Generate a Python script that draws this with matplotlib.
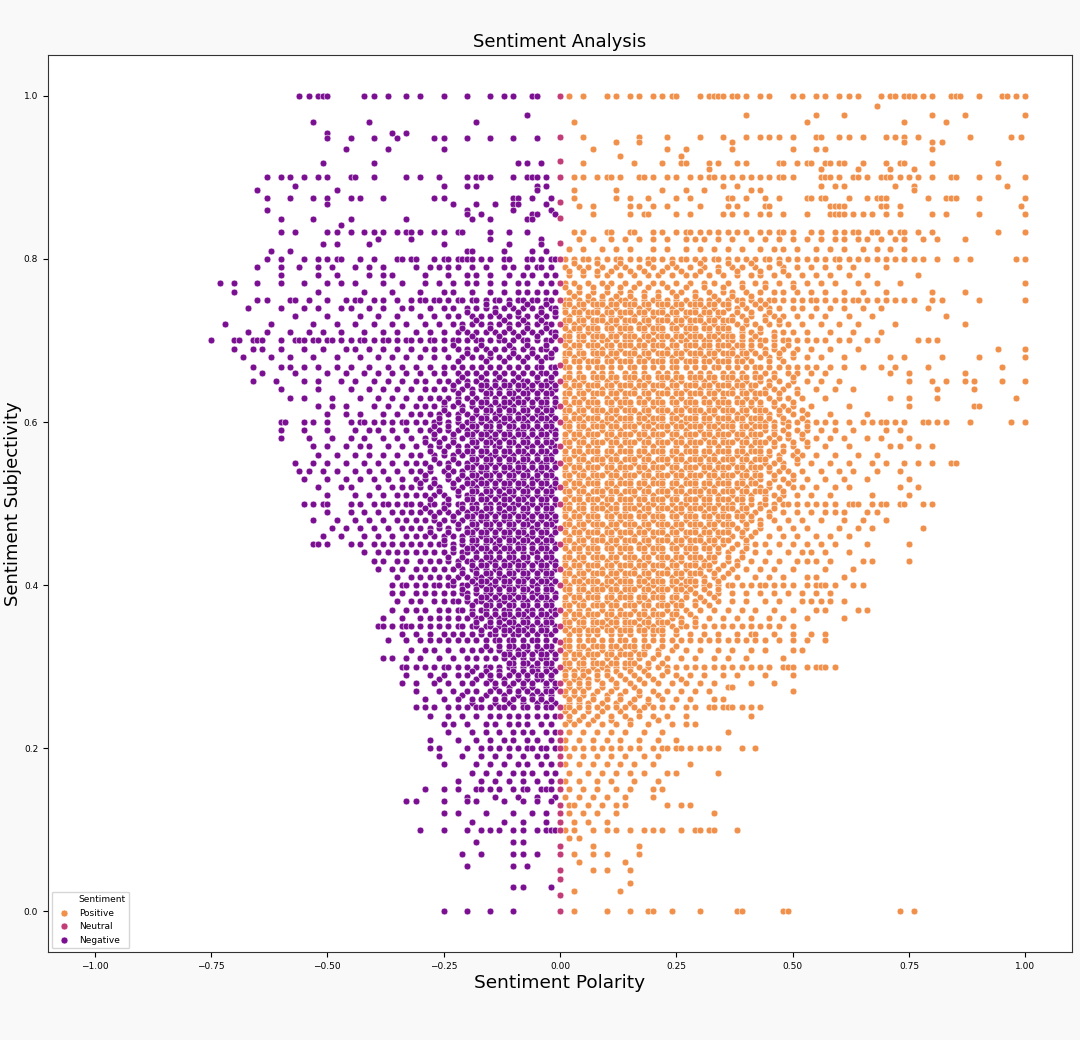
import matplotlib
matplotlib.use("Agg")
import matplotlib.pyplot as plt
from matplotlib.lines import Line2D

# polarity values are in hundredths, one row per subjectivity level

pos_high = [
    (1.0, [2, 5, 10, 12, 15, 17, 20, 22, 24, 25, 30, 32, 33, 34, 35, 37, 38, 40, 43, 45, 50, 52, 55, 57, 60, 62, 64, 69, 71, 72, 74, 75, 76, 78, 80, 84, 85, 86, 90, 95, 96, 98, 100]),
    (0.988, [68]),
    (0.977, [40, 55, 61, 80, 87, 100]),
    (0.968, [3, 53, 74, 83]),
    (0.95, [5, 17, 23, 30, 35, 40, 43, 45, 47, 50, 55, 56, 60, 62, 65, 70, 72, 74, 77, 88, 97, 99]),
    (0.943, [12, 17, 37, 74, 80, 82]),
    (0.935, [7, 23, 27, 37, 50, 55, 57, 80]),
    (0.926, [13, 26]),
    (0.918, [5, 16, 22, 26, 27, 32, 34, 38, 40, 47, 48, 51, 53, 54, 57, 58, 60, 61, 65, 70, 73, 74, 80, 94]),
    (0.91, [32, 56, 64, 71, 76]),
    (0.9, [3, 5, 8, 10, 11, 13, 17, 18, 20, 23, 25, 28, 30, 32, 33, 35, 37, 39, 41, 43, 45, 47, 48, 50, 56, 57, 58, 60, 63, 64, 66, 69, 70, 71, 73, 75, 77, 80, 84, 85, 90, 94, 100]),
    (0.89, [35, 38, 56, 59, 61, 72, 76, 96]),
    (0.885, [3, 12, 22, 27, 31, 41, 43, 76]),
    (0.875, [3, 12, 15, 19, 25, 28, 36, 37, 40, 44, 47, 53, 54, 56, 57, 62, 66, 68, 69, 70, 79, 83, 84, 85, 90, 100]),
    (0.865, [4, 7, 15, 17, 20, 23, 30, 36, 38, 44, 45, 58, 59, 60, 61, 69, 70, 73, 99]),
    (0.855, [7, 15, 18, 19, 25, 28, 35, 37, 40, 43, 45, 48, 53, 58, 59, 60, 61, 63, 65, 67, 70, 73, 80, 83, 90, 100]),
    (0.833, [3, 5, 10, 11, 15, 16, 20, 22, 25, 27, 28, 30, 32, 34, 36, 38, 40, 43, 45, 47, 48, 50, 54, 56, 59, 61, 63, 64, 67, 68, 71, 73, 74, 77, 80, 94, 100]),
    (0.824, [4, 7, 11, 14, 17, 20, 23, 27, 29, 31, 34, 37, 41, 44, 47, 50, 53, 56, 59, 61, 64, 66, 69, 72, 74, 78, 81, 87]),
    (0.812, [2, 5, 9, 12, 15, 20, 23, 27, 30, 33, 36, 39, 43, 46, 48, 51, 55, 58, 61, 65, 68, 71, 74]),
    (0.8, [1, 3, 5, 6, 8, 10, 12, 13, 15, 17, 19, 20, 22, 24, 26, 27, 29, 31, 33, 34, 36, 38, 40, 42, 44, 45, 47, 49, 51, 53, 55, 57, 59, 60, 62, 64, 66, 68, 70, 72, 74, 76, 78, 81, 85, 88, 98, 100]),
]

pos_mid = [
    (0.79, [1, 4, 6, 9, 12, 14, 17, 20, 23, 25, 28, 31, 34, 37, 39, 42, 45, 48, 51, 54, 57, 60, 63, 70]),
    (0.78, [2, 5, 8, 10, 13, 16, 19, 21, 24, 27, 29, 32, 35, 38, 41, 43, 46, 49, 52, 55, 58, 62, 66, 77]),
    (0.77, [1, 3, 6, 9, 11, 14, 17, 20, 22, 25, 28, 31, 33, 36, 39, 42, 44, 47, 50, 53, 56, 59, 64, 68, 73, 100]),
    (0.76, [2, 4, 7, 10, 13, 15, 18, 21, 24, 26, 29, 32, 35, 37, 40, 43, 46, 48, 51, 54, 57, 61, 65, 70, 80, 87]),
    (0.75, [1, 2, 4, 6, 7, 9, 11, 13, 14, 16, 18, 20, 21, 23, 25, 27, 29, 30, 32, 34, 36, 38, 39, 41, 43, 45, 46, 48, 50, 52, 54, 55, 57, 59, 61, 63, 64, 66, 68, 70, 72, 74, 76, 80, 82, 90, 100]),
    (0.74, [1, 3, 5, 8, 10, 12, 15, 17, 19, 22, 24, 26, 29, 31, 33, 36, 38, 40, 43, 45, 47, 50, 52, 55, 58, 61, 65, 69, 79]),
    (0.73, [2, 4, 6, 9, 11, 13, 16, 18, 20, 23, 25, 27, 30, 32, 34, 37, 39, 41, 44, 46, 48, 51, 54, 57, 62, 67, 83]),
    (0.72, [1, 3, 5, 7, 10, 12, 14, 17, 19, 21, 24, 26, 28, 31, 33, 35, 38, 40, 42, 45, 47, 49, 52, 56, 60, 64, 72, 87]),
    (0.71, [2, 4, 6, 8, 11, 13, 15, 18, 20, 22, 25, 27, 29, 32, 34, 36, 39, 41, 43, 46, 48, 50, 53, 58, 63, 69]),
    (0.70, [1, 2, 4, 5, 7, 9, 10, 12, 14, 15, 17, 19, 20, 22, 24, 26, 27, 29, 31, 32, 34, 36, 37, 39, 41, 43, 44, 46, 48, 49, 51, 53, 55, 57, 60, 62, 66, 68, 77, 79, 81]),
    (0.69, [2, 4, 7, 9, 11, 13, 16, 18, 20, 23, 25, 27, 30, 32, 34, 37, 39, 41, 44, 46, 48, 51, 54, 58, 64, 94, 100]),
    (0.68, [1, 3, 5, 8, 10, 12, 15, 17, 19, 22, 24, 26, 29, 31, 33, 36, 38, 40, 43, 45, 47, 50, 53, 56, 61, 71, 74, 82, 90, 100]),
    (0.667, [1, 2, 4, 6, 8, 9, 11, 13, 15, 16, 18, 20, 22, 24, 25, 27, 29, 31, 33, 34, 36, 38, 40, 42, 43, 45, 47, 49, 51, 53, 55, 58, 61, 65, 69, 72, 79, 95]),
    (0.66, [2, 4, 7, 9, 11, 14, 16, 18, 21, 23, 25, 28, 30, 32, 35, 37, 39, 42, 44, 46, 49, 51, 54, 57, 71, 75, 87]),
    (0.65, [1, 3, 5, 8, 10, 12, 15, 17, 19, 22, 24, 26, 29, 31, 33, 36, 38, 40, 43, 45, 47, 50, 53, 56, 60, 75, 80, 83, 87, 89, 95, 100]),
    (0.64, [2, 4, 6, 9, 11, 13, 16, 18, 20, 23, 25, 27, 30, 32, 34, 37, 39, 41, 44, 46, 48, 51, 55, 59, 63, 81, 89]),
    (0.63, [1, 3, 5, 7, 10, 12, 14, 17, 19, 21, 24, 26, 28, 31, 33, 35, 38, 40, 42, 45, 47, 49, 52, 57, 71, 75, 81, 98]),
    (0.62, [2, 4, 6, 8, 11, 13, 15, 18, 20, 22, 25, 27, 29, 32, 34, 36, 39, 41, 43, 46, 48, 50, 54, 62, 75, 89, 90]),
    (0.61, [1, 3, 5, 8, 10, 12, 15, 17, 19, 22, 24, 26, 29, 31, 33, 36, 38, 40, 43, 45, 47, 50, 53, 58, 66]),
    (0.60, [1, 2, 4, 5, 7, 9, 10, 12, 14, 15, 17, 19, 20, 22, 24, 26, 27, 29, 31, 32, 34, 36, 37, 39, 41, 43, 44, 46, 48, 49, 51, 53, 55, 57, 59, 62, 65, 67, 69, 70, 72, 74, 78, 79, 81, 83, 88, 97, 100]),
    (0.59, [2, 4, 6, 9, 11, 13, 16, 18, 20, 23, 25, 27, 30, 32, 34, 37, 39, 41, 44, 46, 48, 51, 53, 56, 59, 63, 70, 73]),
    (0.58, [1, 3, 5, 7, 10, 12, 14, 17, 19, 21, 24, 26, 28, 31, 33, 35, 38, 40, 42, 45, 47, 49, 52, 55, 58, 61, 66, 69, 75]),
    (0.57, [2, 4, 6, 8, 11, 13, 15, 18, 20, 22, 25, 27, 29, 32, 34, 36, 39, 41, 43, 46, 48, 50, 53, 57, 62, 71, 73, 77, 80]),
    (0.56, [1, 3, 5, 8, 10, 12, 15, 17, 19, 22, 24, 26, 29, 31, 33, 36, 38, 40, 43, 45, 47, 50, 52, 55, 59, 64, 68]),
    (0.55, [2, 4, 6, 9, 11, 13, 16, 18, 20, 23, 25, 27, 30, 32, 34, 37, 39, 41, 44, 46, 48, 51, 54, 58, 62, 67, 70, 74, 77, 80, 84, 85]),
    (0.54, [1, 3, 5, 7, 10, 12, 14, 17, 19, 21, 24, 26, 28, 31, 33, 35, 38, 40, 42, 45, 47, 49, 52, 56, 60, 63, 68, 73]),
    (0.53, [2, 4, 6, 8, 11, 13, 15, 18, 20, 22, 25, 27, 29, 32, 34, 36, 39, 41, 43, 46, 48, 50, 53, 57, 61, 66, 75]),
    (0.52, [1, 3, 5, 8, 10, 12, 15, 17, 19, 22, 24, 26, 29, 31, 33, 36, 38, 40, 43, 45, 47, 50, 52, 55, 59, 62, 73, 77]),
    (0.51, [2, 4, 6, 9, 11, 13, 16, 18, 20, 23, 25, 27, 30, 32, 34, 37, 39, 41, 44, 46, 48, 51, 54, 58, 67, 75]),
    (0.50, [1, 2, 4, 5, 7, 9, 10, 12, 14, 15, 17, 19, 20, 22, 24, 26, 27, 29, 31, 32, 34, 36, 37, 39, 41, 43, 44, 46, 48, 49, 51, 53, 55, 57, 59, 62, 63, 64, 67, 69, 70, 73, 74, 78, 80]),
    (0.49, [1, 3, 5, 7, 10, 12, 14, 17, 19, 21, 24, 26, 28, 31, 33, 35, 38, 40, 42, 45, 48, 51, 54, 57, 59, 61, 66, 68]),
    (0.48, [2, 4, 6, 8, 11, 13, 15, 18, 20, 22, 25, 27, 29, 32, 34, 36, 39, 41, 43, 46, 49, 52, 56, 61, 65, 70]),
    (0.47, [1, 3, 5, 8, 10, 12, 15, 17, 19, 22, 24, 26, 29, 31, 33, 36, 38, 40, 43, 47, 50, 53, 60, 64, 67, 78]),
    (0.46, [2, 4, 6, 9, 11, 13, 16, 18, 20, 23, 25, 27, 30, 32, 34, 37, 39, 41, 45, 48, 51, 55, 58, 62]),
    (0.45, [1, 3, 5, 7, 10, 12, 14, 17, 19, 21, 24, 26, 28, 31, 33, 35, 38, 40, 42, 44, 47, 50, 53, 56, 59, 66, 75]),
    (0.44, [2, 4, 6, 8, 11, 13, 15, 18, 20, 22, 25, 27, 29, 32, 34, 36, 39, 42, 45, 49, 52, 54, 57, 62]),
    (0.43, [1, 3, 5, 8, 10, 12, 15, 17, 19, 22, 24, 26, 29, 31, 33, 36, 38, 41, 44, 47, 51, 53, 55, 58, 65, 67, 75]),
    (0.42, [2, 4, 6, 9, 11, 13, 16, 18, 20, 23, 25, 27, 30, 32, 34, 37, 40, 43, 46, 50, 57, 63]),
    (0.41, [1, 3, 5, 7, 10, 12, 14, 17, 19, 21, 24, 26, 28, 31, 33, 35, 38, 42, 45, 48, 53, 55, 61]),
    (0.40, [1, 2, 4, 5, 7, 9, 10, 12, 14, 15, 17, 19, 20, 22, 24, 26, 27, 29, 31, 32, 34, 36, 37, 39, 41, 43, 44, 46, 48, 50, 53, 55, 56, 57, 59, 63, 65]),
    (0.39, [2, 4, 6, 8, 11, 13, 15, 18, 20, 22, 25, 27, 29, 32, 34, 37, 40, 43, 46, 49, 52, 55, 58]),
    (0.38, [1, 3, 5, 8, 10, 12, 15, 17, 19, 22, 24, 26, 29, 31, 34, 37, 40, 44, 47, 52, 54, 56, 58, 61]),
    (0.37, [2, 4, 6, 9, 11, 13, 16, 18, 20, 23, 25, 27, 30, 33, 36, 39, 42, 46, 50, 55, 57, 64, 66]),
    (0.36, [1, 3, 5, 7, 10, 12, 14, 17, 19, 21, 24, 26, 29, 32, 35, 38, 41, 45, 48, 53, 61]),
    (0.35, [1, 2, 4, 5, 7, 9, 10, 12, 14, 15, 17, 19, 20, 22, 24, 26, 27, 29, 31, 33, 35, 37, 39, 41, 43, 45, 47, 50]),
    (0.34, [2, 4, 6, 8, 11, 13, 15, 18, 20, 22, 25, 28, 31, 34, 38, 41, 42, 46, 50, 54, 57]),
    (0.333, [1, 2, 4, 6, 7, 9, 11, 13, 14, 16, 18, 20, 22, 24, 26, 28, 30, 32, 34, 36, 38, 40, 42, 44, 47, 50, 53, 57]),
    (0.32, [2, 4, 6, 9, 11, 13, 16, 18, 21, 24, 27, 30, 34, 37, 41, 44, 50, 52]),
    (0.31, [1, 3, 5, 7, 10, 12, 15, 17, 20, 23, 26, 29, 33, 36, 40, 48]),
    (0.30, [1, 2, 4, 5, 7, 9, 10, 12, 14, 15, 17, 19, 21, 23, 25, 27, 29, 31, 33, 35, 37, 39, 41, 43, 45, 48, 49, 50, 53, 55, 56, 57, 59]),
]

# extra points between the levels, where the orange cloud is solid
pos_fill = [
    (0.795, [3, 8, 13, 19, 24, 30, 36, 41, 47]),
    (0.785, [2, 5, 8, 11, 15, 18, 22, 26, 30, 34, 38, 43, 48]),
    (0.765, [1, 4, 7, 10, 13, 16, 19, 23, 27, 31, 35, 39, 44, 50]),
    (0.755, [3, 6, 9, 12, 15, 18, 21, 25, 29, 33, 37, 41]),
    (0.745, [1, 2, 4, 5, 7, 8, 9, 11, 12, 14, 15, 16, 18, 19, 21, 22, 23, 25, 26, 28, 29, 30, 32, 33, 35, 36, 39, 42, 44]),
    (0.735, [1, 3, 4, 6, 7, 8, 10, 11, 13, 14, 15, 17, 18, 20, 21, 22, 24, 25, 27, 28, 29, 31, 32, 34, 35, 38, 41, 45]),
    (0.725, [1, 2, 4, 5, 7, 8, 9, 11, 12, 14, 15, 16, 18, 19, 21, 22, 23, 25, 26, 28, 29, 30, 32, 33, 35, 36, 37, 40, 44, 47]),
    (0.715, [1, 3, 4, 6, 7, 8, 10, 11, 13, 14, 15, 17, 18, 20, 21, 22, 24, 25, 27, 28, 29, 31, 32, 34, 35, 36, 39, 43]),
    (0.705, [1, 2, 4, 5, 7, 8, 9, 11, 12, 14, 15, 16, 18, 19, 21, 22, 23, 25, 26, 28, 29, 30, 32, 33, 35, 36, 37, 39, 42, 46]),
    (0.695, [1, 3, 4, 6, 7, 8, 10, 11, 13, 14, 15, 17, 18, 20, 21, 22, 24, 25, 27, 28, 29, 31, 32, 34, 35, 36, 38, 39, 41, 43, 46, 49]),
    (0.685, [1, 2, 4, 5, 7, 8, 9, 11, 12, 14, 15, 16, 18, 19, 21, 22, 23, 25, 26, 28, 29, 30, 32, 33, 35, 36, 37, 39, 40, 42, 44, 47, 50]),
    (0.675, [1, 3, 4, 6, 7, 8, 10, 11, 13, 14, 15, 17, 18, 20, 21, 22, 24, 25, 27, 28, 29, 31, 32, 34, 35, 36, 38, 39, 41, 45, 48]),
    (0.655, [1, 2, 4, 5, 7, 8, 9, 11, 12, 14, 15, 16, 18, 19, 21, 22, 23, 25, 26, 28, 29, 30, 32, 33, 35, 36, 37, 39, 40, 42, 43, 46, 50]),
    (0.645, [1, 3, 4, 6, 7, 8, 10, 11, 13, 14, 15, 17, 18, 20, 21, 22, 24, 25, 27, 28, 29, 31, 32, 34, 35, 36, 38, 39, 41, 42, 45, 49]),
    (0.635, [1, 2, 4, 5, 7, 8, 9, 11, 12, 14, 15, 16, 18, 19, 21, 22, 23, 25, 26, 28, 29, 30, 32, 33, 35, 36, 37, 39, 40, 42, 43, 44, 47, 51]),
    (0.625, [1, 3, 4, 6, 7, 8, 10, 11, 13, 14, 15, 17, 18, 20, 21, 22, 24, 25, 27, 28, 29, 31, 32, 34, 35, 36, 38, 39, 41, 43, 46, 50]),
    (0.615, [1, 2, 4, 5, 7, 8, 9, 11, 12, 14, 15, 16, 18, 19, 21, 22, 23, 25, 26, 28, 29, 30, 32, 33, 35, 36, 37, 39, 40, 42, 43, 44, 47, 49, 52]),
    (0.605, [1, 3, 4, 6, 7, 8, 10, 11, 13, 14, 15, 17, 18, 20, 21, 22, 24, 25, 27, 28, 29, 31, 32, 34, 35, 36, 38, 39, 41, 42, 43, 45, 48, 52]),
    (0.595, [1, 2, 4, 5, 7, 8, 9, 11, 12, 14, 15, 16, 18, 19, 21, 22, 23, 25, 26, 28, 29, 30, 32, 33, 35, 36, 37, 39, 40, 42, 43, 44, 46, 49, 53]),
    (0.585, [1, 3, 4, 6, 7, 8, 10, 11, 13, 14, 15, 17, 18, 20, 21, 22, 24, 25, 27, 28, 29, 31, 32, 34, 35, 36, 38, 39, 41, 42, 43, 46, 49, 52]),
    (0.575, [1, 2, 4, 5, 7, 8, 9, 11, 12, 14, 15, 16, 18, 19, 21, 22, 23, 25, 26, 28, 29, 30, 32, 33, 35, 36, 37, 39, 40, 42, 43, 44, 46, 50, 53]),
    (0.565, [1, 3, 4, 6, 7, 8, 10, 11, 13, 14, 15, 17, 18, 20, 21, 22, 24, 25, 27, 28, 29, 31, 32, 34, 35, 36, 38, 39, 41, 42, 43, 45, 48, 51]),
    (0.555, [1, 2, 4, 5, 7, 8, 9, 11, 12, 14, 15, 16, 18, 19, 21, 22, 23, 25, 26, 28, 29, 30, 32, 33, 35, 36, 37, 39, 40, 42, 43, 44, 47, 51]),
    (0.545, [1, 3, 4, 6, 7, 8, 10, 11, 13, 14, 15, 17, 18, 20, 21, 22, 24, 25, 27, 28, 29, 31, 32, 34, 35, 36, 38, 39, 41, 42, 43, 45, 48]),
    (0.535, [1, 2, 4, 5, 7, 8, 9, 11, 12, 14, 15, 16, 18, 19, 21, 22, 23, 25, 26, 28, 29, 30, 32, 33, 35, 36, 37, 39, 40, 42, 43, 46, 50]),
    (0.525, [1, 3, 4, 6, 7, 8, 10, 11, 13, 14, 15, 17, 18, 20, 21, 22, 24, 25, 27, 28, 29, 31, 32, 34, 35, 36, 38, 39, 41, 42, 45, 49]),
    (0.515, [1, 2, 4, 5, 7, 8, 9, 11, 12, 14, 15, 16, 18, 19, 21, 22, 23, 25, 26, 28, 29, 30, 32, 33, 35, 36, 37, 39, 40, 42, 43, 44, 48]),
    (0.505, [1, 3, 4, 6, 7, 8, 10, 11, 13, 14, 15, 17, 18, 20, 21, 22, 24, 25, 27, 28, 29, 31, 32, 34, 35, 36, 38, 39, 41, 44, 47]),
    (0.495, [1, 2, 4, 5, 7, 8, 9, 11, 12, 14, 15, 16, 18, 19, 21, 22, 23, 25, 26, 28, 29, 30, 32, 33, 35, 36, 37, 39, 40, 43, 46]),
    (0.485, [1, 3, 4, 6, 7, 8, 10, 11, 13, 14, 15, 17, 18, 20, 21, 22, 24, 25, 27, 28, 29, 31, 32, 34, 35, 36, 38, 39, 41, 45]),
    (0.475, [1, 2, 4, 5, 7, 8, 9, 11, 12, 14, 15, 16, 18, 19, 21, 22, 23, 25, 26, 28, 29, 30, 32, 33, 35, 36, 37, 40, 43]),
    (0.465, [1, 3, 4, 6, 7, 8, 10, 11, 13, 14, 15, 17, 18, 20, 21, 22, 24, 25, 27, 28, 29, 31, 32, 34, 35, 36, 39, 42]),
    (0.455, [1, 2, 4, 5, 7, 8, 9, 11, 12, 14, 15, 16, 18, 19, 21, 22, 23, 25, 26, 28, 29, 30, 32, 33, 35, 36, 40]),
    (0.445, [1, 3, 4, 6, 7, 8, 10, 11, 13, 14, 15, 17, 18, 20, 21, 22, 24, 25, 27, 28, 29, 31, 32, 34, 37, 40]),
    (0.435, [1, 2, 4, 5, 7, 8, 9, 11, 12, 14, 15, 16, 18, 19, 21, 22, 23, 25, 26, 28, 29, 30, 32, 33, 36, 39]),
    (0.425, [1, 3, 4, 6, 7, 8, 10, 11, 13, 14, 15, 17, 18, 20, 21, 22, 24, 25, 27, 28, 29, 31, 32, 35, 38]),
    (0.415, [1, 2, 4, 5, 7, 8, 9, 11, 12, 14, 15, 16, 18, 19, 21, 22, 23, 25, 26, 28, 29, 30, 33, 36]),
    (0.405, [1, 3, 4, 6, 7, 8, 10, 11, 13, 14, 15, 17, 18, 20, 21, 22, 24, 25, 27, 28, 29, 31, 34]),
    (0.395, [1, 2, 4, 5, 7, 8, 9, 11, 12, 14, 15, 16, 18, 19, 21, 22, 23, 25, 26, 28, 31, 34]),
    (0.385, [1, 3, 4, 6, 7, 8, 10, 11, 13, 14, 15, 17, 18, 20, 21, 22, 24, 25, 27, 30, 33]),
    (0.375, [1, 2, 4, 5, 7, 8, 9, 11, 12, 14, 15, 16, 18, 19, 21, 22, 23, 25, 26, 29, 32]),
    (0.365, [1, 3, 4, 6, 7, 8, 10, 11, 13, 14, 15, 17, 18, 20, 21, 22, 24, 25, 28]),
    (0.355, [1, 2, 4, 5, 7, 8, 9, 11, 12, 14, 15, 16, 18, 19, 21, 22, 23, 26, 29]),
    (0.345, [1, 3, 4, 6, 7, 8, 10, 11, 13, 14, 15, 17, 18, 20, 21, 22, 25]),
    (0.325, [1, 2, 4, 5, 7, 8, 9, 11, 12, 14, 15, 16, 18, 19, 22, 25]),
    (0.315, [1, 3, 4, 6, 7, 8, 10, 11, 13, 14, 15, 17, 18, 21]),
    (0.305, [1, 2, 4, 5, 7, 8, 9, 11, 12, 14, 15, 16, 19, 22]),
    (0.295, [1, 3, 5, 6, 8, 10, 12, 15, 18, 23]),
    (0.285, [1, 3, 4, 6, 8, 11, 14, 17, 20, 26]),
    (0.275, [2, 4, 6, 9, 12, 16]),
    (0.265, [1, 3, 5, 7, 10, 13, 17, 21]),
    (0.255, [2, 4, 6, 9, 12, 15, 19]),
    (0.245, [1, 3, 6, 9, 13, 17]),
    (0.235, [2, 4, 7, 11, 15, 21]),
]

pos_low = [
    (0.29, [1, 3, 5, 8, 10, 13, 16, 19, 22, 25, 28, 31, 35, 38, 44, 50]),
    (0.28, [2, 4, 6, 9, 12, 15, 18, 21, 24, 27, 30, 33, 41, 46]),
    (0.275, [36, 37]),
    (0.27, [1, 3, 5, 8, 11, 14, 17, 20, 23, 26, 29, 32, 50]),
    (0.26, [2, 4, 7, 10, 13, 16, 19, 22, 25, 28, 33, 35]),
    (0.25, [1, 2, 4, 6, 8, 10, 12, 14, 16, 18, 20, 22, 24, 27, 29, 32, 33, 35, 36, 37, 39, 41, 43]),
    (0.24, [2, 5, 8, 11, 14, 17, 20, 23, 27, 41]),
    (0.23, [1, 3, 6, 9, 12, 15, 19, 24, 27, 29]),
    (0.22, [2, 5, 8, 11, 14, 18, 22, 36]),
    (0.21, [1, 4, 7, 10, 13, 17, 21, 25]),
    (0.20, [1, 3, 5, 7, 9, 11, 13, 15, 17, 20, 22, 23, 25, 26, 28, 30, 32, 34, 39, 42]),
    (0.19, [2, 5, 8, 11, 14, 18, 21]),
    (0.18, [1, 4, 7, 10, 13, 16, 20, 28]),
    (0.17, [2, 6, 9, 12, 15, 18, 23, 25, 34]),
    (0.16, [1, 4, 8, 11, 16, 21]),
    (0.15, [2, 5, 8, 12, 15, 20, 22]),
    (0.14, [1, 4, 7, 10, 14, 20]),
    (0.13, [2, 3, 6, 9, 12, 14, 23, 26, 28]),
    (0.12, [2, 5, 8, 12, 33]),
    (0.11, [3, 6, 10]),
    (0.10, [1, 3, 7, 10, 12, 15, 18, 20, 22, 26, 29, 30, 32, 33, 38]),
    (0.09, [2, 4]),
    (0.08, [7, 17]),
    (0.07, [3, 7, 10, 17]),
    (0.06, [4, 14]),
    (0.05, [7, 10, 15]),
    (0.035, [15]),
    (0.025, [3, 13]),
    (0.0, [3, 10, 15, 19, 20, 24, 30, 38, 39, 48, 49, 73, 76]),
]

neg_high = [
    (1.0, [-56, -54, -52, -51, -50, -42, -40, -37, -33, -30, -25, -20, -15, -12, -10, -6, -5]),
    (0.977, [-7]),
    (0.968, [-53, -41, -18]),
    (0.955, [-50, -36, -33]),
    (0.948, [-50, -45, -40, -35, -27, -25, -20, -15, -10, -5]),
    (0.935, [-46, -37, -25]),
    (0.918, [-51, -40, -9, -7, -4]),
    (0.9, [-63, -60, -58, -55, -52, -50, -45, -44, -40, -33, -30, -26, -20, -18, -17, -15, -10, -7, -6, -5, -3]),
    (0.89, [-57, -25, -20, -18, -5, -3]),
    (0.885, [-65, -48, -5]),
    (0.875, [-63, -58, -53, -50, -45, -43, -38, -27, -25, -10, -9, -6, -2]),
    (0.867, [-50, -23, -18, -14, -10, -9, -3]),
    (0.86, [-63, -20, -10, -2]),
    (0.855, [-20, -17, -6, -5, -1]),
    (0.849, [-60, -53, -45, -33, -19, -15, -7, -6]),
    (0.842, [-47]),
    (0.833, [-60, -57, -50, -48, -45, -42, -40, -38, -35, -33, -32, -30, -27, -25, -22, -21, -15, -11, -7]),
    (0.825, [-39, -32, -15, -4]),
    (0.818, [-51, -48, -41, -25, -11, -4]),
    (0.81, [-62, -58, -20, -19, -12, -6, -3]),
    (0.8, [-63, -60, -55, -52, -50, -48, -47, -43, -40, -35, -34, -32, -31, -27, -25, -24, -22, -21, -20, -19, -17, -15, -12, -11, -7, -6, -4, -2, -1]),
]

neg_mid = [
    (0.79, [-65, -60, -56, -52, -49, -44, -41, -38, -31, -28, -26, -24, -22, -19, -16, -12, -10, -7, -5, -4, -2]),
    (0.78, [-60, -52, -48, -41, -38, -36, -29, -24, -20, -18, -15, -11, -8, -6, -3, -1]),
    (0.77, [-73, -70, -65, -60, -55, -50, -47, -44, -38, -34, -29, -26, -23, -20, -18, -15, -12, -9, -7, -4, -2]),
    (0.76, [-70, -52, -42, -36, -30, -25, -23, -19, -15, -12, -9, -7, -5, -3, -1]),
    (0.75, [-65, -63, -58, -57, -54, -50, -46, -44, -43, -40, -38, -35, -32, -30, -29, -27, -26, -24, -22, -21, -19, -18, -16, -14, -13, -11, -9, -8, -6, -5, -3, -2]),
    (0.74, [-67, -60, -55, -52, -47, -45, -41, -38, -34, -32, -28, -25, -23, -20, -18, -16, -14, -12, -10, -8, -6, -4, -2, -1]),
    (0.73, [-57, -50, -43, -39, -35, -30, -27, -24, -22, -19, -17, -15, -13, -11, -9, -7, -5, -3, -1]),
    (0.72, [-72, -62, -53, -48, -44, -40, -36, -33, -29, -26, -23, -21, -19, -17, -15, -13, -11, -9, -7, -5, -3, -2]),
    (0.71, [-67, -63, -58, -54, -51, -47, -42, -38, -35, -31, -28, -25, -22, -20, -18, -16, -14, -12, -10, -8, -6, -4, -2, -1]),
    (0.70, [-75, -70, -69, -66, -65, -64, -60, -57, -56, -55, -53, -52, -50, -49, -47, -45, -43, -42, -40, -38, -37, -35, -33, -32, -30, -28, -27, -25, -23, -22, -20, -18, -17, -15, -13, -12, -10, -8, -7, -5, -3, -2]),
    (0.69, [-70, -66, -64, -60, -55, -51, -46, -44, -41, -38, -35, -32, -29, -27, -25, -22, -20, -18, -16, -14, -12, -10, -8, -6, -4, -3, -1]),
    (0.68, [-68, -62, -58, -53, -48, -43, -39, -36, -33, -30, -27, -24, -21, -19, -17, -15, -13, -11, -9, -7, -5, -3, -2]),
    (0.667, [-66, -60, -58, -55, -52, -48, -45, -41, -37, -34, -31, -28, -25, -23, -21, -19, -17, -15, -13, -11, -9, -7, -5, -4, -2, -1]),
    (0.66, [-64, -57, -50, -46, -42, -39, -36, -33, -30, -27, -25, -22, -20, -18, -16, -14, -12, -10, -8, -6, -4, -3, -1]),
    (0.65, [-66, -61, -55, -52, -47, -44, -40, -37, -34, -31, -29, -26, -24, -22, -20, -18, -16, -14, -12, -10, -8, -7, -5, -3, -2]),
    (0.64, [-60, -52, -45, -41, -38, -35, -32, -29, -27, -25, -23, -21, -19, -17, -15, -13, -11, -9, -7, -6, -4, -2, -1]),
    (0.63, [-58, -55, -49, -43, -39, -36, -33, -30, -28, -26, -24, -22, -20, -18, -16, -14, -12, -10, -9, -7, -5, -3, -1]),
    (0.62, [-52, -49, -46, -40, -37, -34, -31, -29, -27, -25, -23, -21, -19, -17, -15, -13, -12, -10, -8, -6, -4, -3, -1]),
    (0.61, [-50, -46, -43, -38, -35, -32, -30, -28, -26, -24, -22, -20, -18, -16, -14, -13, -11, -9, -7, -5, -4, -2]),
    (0.60, [-60, -59, -55, -53, -50, -45, -43, -42, -40, -38, -36, -34, -33, -31, -29, -27, -26, -24, -22, -20, -19, -17, -15, -13, -12, -10, -8, -7, -5, -3, -2]),
    (0.59, [-60, -55, -50, -44, -41, -39, -36, -33, -30, -28, -26, -24, -22, -20, -18, -16, -15, -13, -11, -9, -8, -6, -4, -2, -1]),
    (0.58, [-60, -54, -49, -45, -42, -38, -35, -32, -29, -27, -25, -23, -21, -19, -17, -15, -14, -12, -10, -8, -7, -5, -3, -1]),
    (0.57, [-53, -50, -46, -43, -41, -37, -34, -31, -28, -26, -24, -22, -20, -18, -16, -14, -13, -11, -9, -7, -6, -4, -2, -1]),
    (0.56, [-52, -48, -44, -41, -38, -35, -32, -30, -27, -25, -23, -21, -19, -17, -15, -14, -12, -10, -8, -7, -5, -3, -2]),
    (0.55, [-57, -53, -50, -46, -42, -39, -36, -33, -31, -29, -26, -24, -22, -20, -18, -16, -15, -13, -11, -9, -8, -6, -4, -3, -1]),
    (0.54, [-56, -54, -51, -48, -44, -41, -38, -35, -32, -30, -28, -25, -23, -21, -19, -17, -16, -14, -12, -10, -9, -7, -5, -4, -2]),
    (0.53, [-55, -50, -46, -43, -40, -37, -34, -31, -29, -27, -24, -22, -20, -18, -17, -15, -13, -11, -10, -8, -6, -5, -3, -1]),
    (0.52, [-52, -47, -45, -39, -36, -34, -32, -30, -28, -26, -23, -21, -19, -18, -16, -14, -12, -11, -9, -7, -6, -4, -2, -1]),
    (0.51, [-50, -44, -41, -38, -35, -33, -31, -29, -27, -25, -22, -20, -19, -17, -15, -13, -12, -10, -8, -7, -5, -3, -2]),
    (0.50, [-55, -53, -51, -50, -45, -43, -40, -38, -37, -35, -33, -32, -30, -28, -27, -25, -24, -22, -21, -19, -18, -16, -15, -13, -12, -10, -9, -7, -6, -4, -3, -1]),
    (0.49, [-50, -45, -42, -39, -36, -34, -32, -30, -28, -26, -24, -22, -20, -18, -17, -15, -13, -12, -10, -8, -7, -5, -3, -2]),
    (0.48, [-53, -48, -44, -41, -38, -35, -33, -31, -29, -27, -25, -23, -21, -19, -17, -16, -14, -12, -11, -9, -7, -6, -4, -2, -1]),
    (0.47, [-49, -46, -43, -40, -37, -34, -32, -30, -28, -26, -24, -22, -20, -18, -16, -15, -13, -11, -10, -8, -6, -5, -3, -1]),
    (0.46, [-51, -47, -42, -39, -36, -33, -31, -29, -27, -25, -23, -21, -19, -17, -16, -14, -12, -11, -9, -7, -6, -4, -2]),
    (0.45, [-53, -52, -50, -45, -43, -40, -38, -36, -34, -32, -30, -28, -26, -25, -23, -21, -19, -18, -16, -14, -13, -11, -9, -8, -6, -4, -3, -1]),
    (0.44, [-42, -39, -37, -35, -33, -31, -29, -27, -25, -23, -21, -20, -18, -16, -15, -13, -11, -10, -8, -6, -5, -3, -2]),
    (0.43, [-40, -38, -35, -33, -30, -28, -26, -24, -22, -20, -19, -17, -15, -14, -12, -10, -9, -7, -5, -4, -2, -1]),
    (0.42, [-39, -36, -34, -31, -29, -27, -25, -23, -21, -19, -18, -16, -14, -13, -11, -9, -8, -6, -4, -3, -1]),
    (0.41, [-35, -32, -30, -28, -26, -24, -22, -20, -18, -17, -15, -13, -12, -10, -8, -7, -5, -3, -2]),
    (0.40, [-36, -34, -33, -31, -29, -27, -26, -24, -23, -21, -20, -18, -17, -15, -14, -12, -11, -9, -8, -6, -5, -3, -2]),
    (0.39, [-36, -34, -31, -29, -27, -25, -23, -21, -20, -18, -16, -15, -13, -11, -10, -8, -6, -5, -3, -1]),
    (0.38, [-35, -32, -30, -27, -25, -23, -22, -20, -18, -17, -15, -13, -12, -10, -8, -7, -5, -3, -2]),
    (0.37, [-36, -33, -31, -29, -26, -24, -22, -21, -19, -17, -16, -14, -12, -11, -9, -7, -6, -4, -2, -1]),
    (0.36, [-38, -34, -30, -28, -26, -24, -22, -20, -18, -17, -15, -13, -12, -10, -8, -7, -5, -3, -2]),
    (0.35, [-39, -38, -36, -34, -33, -32, -30, -28, -26, -24, -22, -21, -19, -18, -16, -15, -13, -12, -10, -9, -7, -6, -4, -3, -1]),
    (0.34, [-34, -31, -28, -25, -23, -21, -19, -17, -15, -14, -12, -10, -9, -7, -5, -3, -2]),
    (0.333, [-37, -33, -30, -28, -26, -24, -22, -20, -18, -16, -14, -13, -11, -10, -8, -6, -5, -3, -1]),
    (0.32, [-32, -29, -27, -24, -21, -19, -17, -15, -13, -11, -9, -7, -5, -4, -2]),
    (0.31, [-38, -36, -33, -30, -26, -23, -20, -18, -16, -14, -12, -10, -8, -6, -4, -3, -1]),
    (0.30, [-34, -33, -31, -29, -27, -25, -24, -22, -20, -18, -16, -15, -13, -11, -10, -8, -6, -5, -3, -2]),
]

# extra points between the levels, where the purple cloud is solid
neg_fill = [
    (0.745, [-16, -11, -7, -3]),
    (0.735, [-20, -14, -9, -4, -1]),
    (0.725, [-18, -12, -8, -4]),
    (0.715, [-21, -15, -11, -7, -3]),
    (0.705, [-19, -13, -9, -5, -1]),
    (0.695, [-23, -17, -11, -7, -3]),
    (0.685, [-20, -15, -10, -6, -2]),
    (0.675, [-22, -16, -12, -8, -4]),
    (0.655, [-21, -17, -13, -9, -5, -2]),
    (0.645, [-1, -3, -4, -6, -8, -9, -11, -12, -14, -16, -17, -20, -23]),
    (0.635, [-2, -3, -5, -7, -8, -10, -11, -13, -15, -16, -19, -22]),
    (0.625, [-1, -3, -4, -6, -8, -9, -11, -12, -14, -16, -17, -19, -22, -25]),
    (0.615, [-2, -3, -5, -7, -8, -10, -11, -13, -15, -16, -18, -21, -25]),
    (0.605, [-1, -3, -4, -6, -8, -9, -11, -12, -14, -16, -17, -19, -22, -26]),
    (0.595, [-2, -3, -5, -7, -8, -10, -11, -13, -15, -16, -18, -19, -21, -24, -27]),
    (0.585, [-1, -3, -4, -6, -8, -9, -11, -12, -14, -16, -17, -19, -20, -23, -27]),
    (0.575, [-2, -3, -5, -7, -8, -10, -11, -13, -15, -16, -18, -19, -23, -26, -29]),
    (0.565, [-1, -3, -4, -6, -8, -9, -11, -12, -14, -16, -17, -19, -20, -22, -25, -28]),
    (0.555, [-2, -3, -5, -7, -8, -10, -11, -13, -15, -16, -18, -19, -23, -27]),
    (0.545, [-1, -3, -4, -6, -8, -9, -11, -12, -14, -16, -17, -19, -20, -24, -28]),
    (0.535, [-2, -3, -5, -7, -8, -10, -11, -13, -15, -16, -18, -19, -21, -24, -29]),
    (0.525, [-1, -3, -4, -6, -8, -9, -11, -12, -14, -16, -17, -19, -20, -23, -27, -30]),
    (0.515, [-2, -3, -5, -7, -8, -10, -11, -13, -15, -16, -18, -19, -22, -26]),
    (0.505, [-1, -3, -4, -6, -8, -9, -11, -12, -14, -16, -17, -19, -20, -24, -28]),
    (0.495, [-2, -3, -5, -7, -8, -10, -11, -13, -15, -16, -18, -19, -21, -25, -29]),
    (0.485, [-1, -3, -4, -6, -8, -9, -11, -12, -14, -16, -17, -19, -20, -23, -27]),
    (0.475, [-2, -3, -5, -7, -8, -10, -11, -13, -15, -16, -18, -19, -22, -26]),
    (0.465, [-1, -3, -4, -6, -8, -9, -11, -12, -14, -16, -17, -19, -20, -24, -28]),
    (0.455, [-2, -3, -5, -7, -8, -10, -11, -13, -15, -16, -18, -19, -21, -25]),
    (0.445, [-1, -3, -4, -6, -8, -9, -11, -12, -14, -16, -17, -19, -20, -23]),
    (0.435, [-2, -3, -5, -7, -8, -10, -11, -13, -15, -16, -18, -21, -24]),
    (0.425, [-1, -3, -4, -6, -8, -9, -11, -12, -14, -16, -17, -19, -22]),
    (0.415, [-2, -3, -5, -7, -8, -10, -11, -13, -15, -16, -18, -21]),
    (0.405, [-1, -3, -4, -6, -8, -9, -11, -12, -14, -16, -17, -19, -23]),
    (0.395, [-2, -3, -5, -7, -8, -10, -11, -13, -15, -16, -18, -21]),
    (0.385, [-1, -3, -4, -6, -8, -9, -11, -12, -14, -16, -17, -20]),
    (0.375, [-2, -3, -5, -7, -8, -10, -11, -13, -15, -16, -19]),
    (0.365, [-1, -3, -4, -6, -8, -9, -11, -12, -14, -16, -19]),
    (0.355, [-2, -3, -5, -7, -8, -10, -11, -13, -15, -18]),
    (0.345, [-1, -3, -4, -6, -8, -9, -11, -12, -14, -17]),
    (0.325, [-2, -3, -5, -7, -8, -10, -11, -13, -16]),
    (0.315, [-1, -3, -4, -6, -8, -9, -11, -12]),
    (0.305, [-2, -3, -5, -7, -8, -10, -11]),
    (0.295, [-1, -3, -5, -6, -8, -10, -13, -16, -19]),
    (0.285, [-2, -4, -5, -7, -9, -12, -15, -18, -26]),
    (0.275, [-1, -3, -6, -8, -11, -14]),
    (0.265, [-2, -4, -6, -9, -12, -16, -21]),
    (0.255, [-1, -3, -5, -8, -11, -14, -19]),
]

neg_low = [
    (0.29, [-33, -28, -25, -22, -20, -17, -15, -13, -11, -9, -7, -5, -4, -2]),
    (0.28, [-34, -31, -27, -24, -21, -19, -16, -14, -12, -10, -8, -6, -3, -1]),
    (0.27, [-31, -26, -23, -20, -18, -15, -13, -11, -9, -7, -5, -3, -2]),
    (0.26, [-29, -25, -22, -19, -17, -14, -12, -10, -8, -6, -4, -2]),
    (0.25, [-31, -29, -27, -24, -22, -20, -18, -17, -15, -13, -12, -10, -8, -7, -5, -3, -2]),
    (0.24, [-28, -24, -21, -18, -15, -13, -11, -9, -7, -5, -3, -1]),
    (0.23, [-25, -23, -20, -16, -14, -11, -9, -7, -4, -2]),
    (0.22, [-24, -19, -16, -13, -10, -8, -6, -3, -1]),
    (0.21, [-28, -22, -18, -15, -12, -10, -7, -5, -2]),
    (0.20, [-28, -26, -20, -17, -15, -13, -11, -9, -7, -6, -4, -3, -1]),
    (0.19, [-26, -21, -17, -14, -11, -8, -5, -3]),
    (0.18, [-25, -18, -15, -12, -9, -7, -4, -2]),
    (0.17, [-19, -16, -13, -10, -8, -6, -3, -1]),
    (0.16, [-22, -17, -14, -11, -8, -5, -2]),
    (0.15, [-29, -25, -22, -18, -17, -15, -13, -10, -8, -7, -4, -3, -2]),
    (0.14, [-20, -14, -9, -5, -1]),
    (0.135, [-33, -31, -25, -20, -18, -12, -8, -5, -2]),
    (0.12, [-25, -22, -16, -10, -6, -3]),
    (0.11, [-19, -12, -8, -3]),
    (0.10, [-30, -25, -20, -17, -15, -13, -10, -8, -5, -3, -2, -1]),
    (0.085, [-18, -10, -8]),
    (0.07, [-21, -17, -10, -8, -5]),
    (0.055, [-20, -10, -7]),
    (0.03, [-10, -8, -2]),
    (0.0, [-25, -20, -15, -10]),
]

neutral_y = [0.0, 0.02, 0.04, 0.05, 0.07, 0.08, 0.1, 0.11, 0.12, 0.13, 0.15, 0.16, 0.18, 0.19,
             0.2, 0.21, 0.22, 0.24, 0.25, 0.27, 0.28, 0.3, 0.32, 0.33, 0.35, 0.37, 0.4, 0.42,
             0.45, 0.47, 0.5, 0.52, 0.55, 0.57, 0.6, 0.62, 0.65, 0.67, 0.7, 0.72, 0.75, 0.77,
             0.8, 0.82, 0.85, 0.87, 0.9, 0.92, 0.95, 1.0]

colors = {"Positive": "#f0904a", "Neutral": "#c23c78", "Negative": "#7b0f92"}


def flatten(*tables):
    xs, ys = [], []
    for table in tables:
        for level, row in table:
            xs += [v / 100 for v in row]
            ys += [level] * len(row)
    return xs, ys


pos_x, pos_y = flatten(pos_high, pos_mid, pos_fill, pos_low)
neg_x, neg_y = flatten(neg_high, neg_mid, neg_fill, neg_low)

fig = plt.figure(figsize=(10.8, 10.4), dpi=100, facecolor="#f9f9f9")
ax = fig.add_axes([0.0444, 0.0846, 0.9482, 0.8624])
ax.set_facecolor("white")

dot = dict(s=24, edgecolors="white", linewidths=0.4)
ax.scatter(neg_x, neg_y, c=colors["Negative"], **dot)
ax.scatter(pos_x, pos_y, c=colors["Positive"], **dot)
ax.scatter([0.0] * len(neutral_y), neutral_y, c=colors["Neutral"], **dot)

ax.set_xlim(-1.1, 1.1)
ax.set_ylim(-0.05, 1.05)
ax.set_xticks([-1.0, -0.75, -0.5, -0.25, 0.0, 0.25, 0.5, 0.75, 1.0])
ax.set_xticklabels(["\u22121.00", "\u22120.75", "\u22120.50", "\u22120.25", "0.00", "0.25", "0.50", "0.75", "1.00"])
ax.set_yticks([0.0, 0.2, 0.4, 0.6, 0.8, 1.0])
ax.tick_params(labelsize=6.5)
for sp in ax.spines.values():
    sp.set_color("#333333")

ax.set_title("Sentiment Analysis", fontsize=13)
ax.set_xlabel("Sentiment Polarity", fontsize=13.3, labelpad=2)
ax.set_ylabel("Sentiment Subjectivity", fontsize=13, labelpad=1.5)

handles = [Line2D([], [], linestyle="none", marker="", label="Sentiment")]
for name in ["Positive", "Neutral", "Negative"]:
    handles.append(Line2D([], [], linestyle="none", marker="o", markersize=5,
                          markerfacecolor=colors[name], markeredgecolor="white",
                          markeredgewidth=0.4, label=name))
ax.legend(handles=handles, loc="lower left", fontsize=6.5, handletextpad=0.6,
          borderaxespad=0.4)

fig.savefig("out.png", dpi=100, facecolor=fig.get_facecolor())
